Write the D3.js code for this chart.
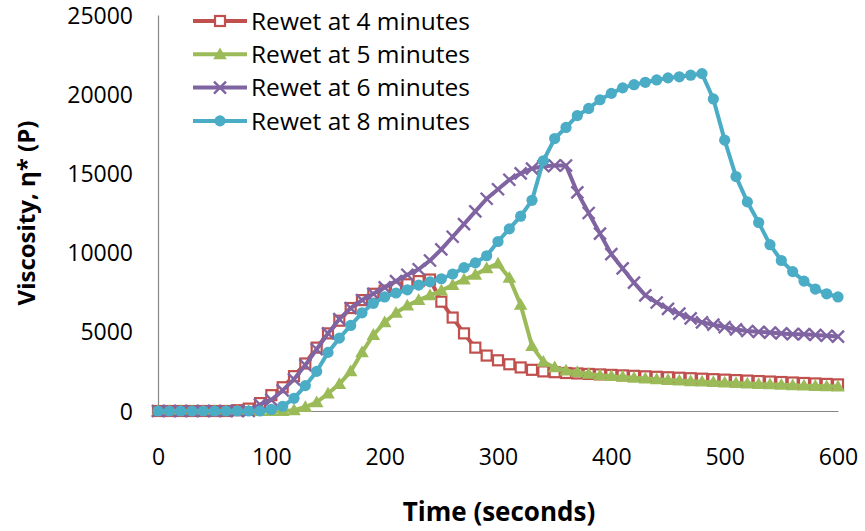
<!DOCTYPE html>
<html lang="en">
<head>
  <meta charset="UTF-8">
  <title>viscosity</title>
</head>
<body>
<style>
  * {
    padding: 0;
    margin: 0;
  }
  body {
    background: #fff;
  }
  text {
    font-family: "Open Sans", "Noto Sans", sans-serif;
    fill: #000;
  }
</style>

<div id="app"></div>

<script src="https://cdn.jsdelivr.net/npm/d3@7/dist/d3.min.js"></script>
<script>
  // time in seconds, one reading every 10 s
  let times = [0, 10, 20, 30, 40, 50, 60, 70, 80, 90, 100, 110, 120, 130, 140, 150, 160, 170, 180, 190, 200,
    210, 220, 230, 240, 250, 260, 270, 280, 290, 300, 310, 320, 330, 340, 350, 360, 370, 380, 390, 400,
    410, 420, 430, 440, 450, 460, 470, 480, 490, 500, 510, 520, 530, 540, 550, 560, 570, 580, 590, 600];

  let rewet4 = [0, 0, 0, 0, 0, 0, 0, 50, 150, 500, 1000, 1500, 2200, 3000, 4000, 4900, 5700, 6500, 7000, 7400, 7600,
    7800, 8000, 8200, 8300, 6900, 5900, 4900, 4000, 3500, 3200, 2950, 2750, 2600, 2500, 2450, 2400, 2370, 2340, 2310, 2280,
    2250, 2220, 2190, 2160, 2130, 2100, 2070, 2040, 2010, 1980, 1950, 1920, 1890, 1860, 1830, 1800, 1770, 1740, 1710, 1680];

  let rewet5 = [0, 0, 0, 0, 0, 0, 0, 0, 0, 0, 0, 0, 50, 250, 550, 1100, 1700, 2500, 3700, 4800, 5600,
    6200, 6650, 7000, 7300, 7600, 7950, 8300, 8600, 9000, 9300, 8400, 6700, 4100, 3100, 2750, 2550, 2450, 2350, 2250, 2200,
    2150, 2100, 2050, 2000, 1960, 1920, 1880, 1850, 1820, 1790, 1760, 1730, 1700, 1680, 1650, 1620, 1600, 1580, 1560, 1540];

  let rewet6 = [0, 0, 0, 0, 0, 0, 0, 0, 0, 400, 700, 1300, 2000, 2900, 3900, 4900, 5800, 6500, 7000, 7400, 7800,
    8200, 8600, 8950, 9500, 10200, 11000, 11800, 12600, 13400, 14000, 14600, 15000, 15300, 15450, 15500, 15500, 13800, 12500, 11200, 9900,
    9000, 8100, 7300, 6850, 6450, 6150, 5850, 5600, 5450, 5300, 5150, 5050, 5000, 4950, 4900, 4850, 4850, 4800, 4750, 4700];

  let rewet8 = [0, 0, 0, 0, 0, 0, 0, 0, 0, 0, 100, 300, 800, 1600, 2500, 3700, 4600, 5400, 6200, 6800, 7200,
    7450, 7650, 7950, 8150, 8350, 8650, 9050, 9350, 9800, 10700, 11500, 12300, 13300, 15800, 17200, 17900, 18650, 19100, 19650, 20050,
    20400, 20600, 20750, 20900, 21030, 21100, 21200, 21300, 19700, 17100, 14800, 13200, 11900, 10500, 9500, 8800, 8200, 7700, 7400, 7200];

  let seriesNames = ["Rewet at 4 minutes", "Rewet at 5 minutes", "Rewet at 6 minutes", "Rewet at 8 minutes"];
  let seriesColors = ["#C0504D", "#9BBB59", "#8064A2", "#4BACC6"];
  let seriesMarkers = ["square", "triangle", "cross", "circle"];
  let xTicks = [0, 100, 200, 300, 400, 500, 600];
  let yTicks = [0, 5000, 10000, 15000, 20000, 25000];

  let allSeries = [rewet4, rewet5, rewet6, rewet8];

  let $width = 865, $height = 531;
  let x = d3.scaleLinear().domain([0, 600]).range([158, 838]);
  let y = d3.scaleLinear().domain([0, 25000]).range([411, 15]);

  let svg = d3.select("#app").append("svg").attr("width", $width).attr("height", $height);

  // axes
  let xAxis = svg.append("g").attr("transform", "translate(0," + y(0) + ")")
    .call(d3.axisBottom(x).tickValues(xTicks).tickSize(0).tickPadding(38).tickFormat(d3.format("d")));
  let yAxis = svg.append("g").attr("transform", "translate(" + x(0) + ",0)")
    .call(d3.axisLeft(y).tickValues(yTicks).tickSize(0).tickPadding(25).tickFormat(d3.format("d")));

  [xAxis, yAxis].forEach(function (g) {
    g.select(".domain").attr("stroke", "#868686").attr("stroke-width", 1.2);
    g.selectAll("text").attr("font-size", "23px").attr("font-family", "'Open Sans', sans-serif").attr("fill", "#000");
  });
  yAxis.selectAll("text").attr("dy", "0.35em");

  // series
  let line = d3.line().x(function (d) { return x(d[0]) }).y(function (d) { return y(d[1]) });

  function drawMarker(g, kind, color, cx, cy) {
    if (kind === "square") {
      g.append("rect").attr("x", cx - 5).attr("y", cy - 5).attr("width", 10).attr("height", 10)
        .attr("fill", "#fff").attr("stroke", color).attr("stroke-width", 2.2);
    } else if (kind === "triangle") {
      g.append("path").attr("d", d3.symbol(d3.symbolTriangle, 80)()).attr("transform", "translate(" + cx + "," + (cy + 1) + ")")
        .attr("fill", color);
    } else if (kind === "cross") {
      g.append("path").attr("d", "M-6,-6L6,6M-6,6L6,-6").attr("transform", "translate(" + cx + "," + cy + ")")
        .attr("stroke", color).attr("stroke-width", 2.4).attr("fill", "none");
    } else {
      g.append("circle").attr("cx", cx).attr("cy", cy).attr("r", 5.6).attr("fill", color);
    }
  }

  allSeries.forEach(function (vals, i) {
    let pts = times.map(function (t, j) { return [t, vals[j]] });
    let g = svg.append("g");
    g.append("path").datum(pts).attr("d", line).attr("fill", "none")
      .attr("stroke", seriesColors[i]).attr("stroke-width", 4).attr("stroke-linejoin", "round");
    pts.forEach(function (p) {
      drawMarker(g, seriesMarkers[i], seriesColors[i], x(p[0]), y(p[1]));
    });
  });

  // legend
  let legend = svg.append("g");
  seriesNames.forEach(function (name, i) {
    let ly = 21 + i * 33.3;
    legend.append("line").attr("x1", 193).attr("x2", 247).attr("y1", ly).attr("y2", ly)
      .attr("stroke", seriesColors[i]).attr("stroke-width", 4);
    drawMarker(legend, seriesMarkers[i], seriesColors[i], 220, ly);
    legend.append("text").attr("x", 251).attr("y", ly).attr("dy", "0.36em")
      .attr("font-size", "24.5px").text(name);
  });

  // axis titles
  svg.append("text").attr("x", 499).attr("y", 512).attr("dy", "0.35em").attr("text-anchor", "middle")
    .attr("font-size", "26px").attr("font-weight", "bold").text("Time (seconds)");
  svg.append("text").attr("transform", "translate(27,213) rotate(-90)").attr("dy", "0.35em")
    .attr("text-anchor", "middle").attr("font-size", "24px").attr("font-weight", "bold").text("Viscosity, η* (P)");
</script>
</body>
</html>
